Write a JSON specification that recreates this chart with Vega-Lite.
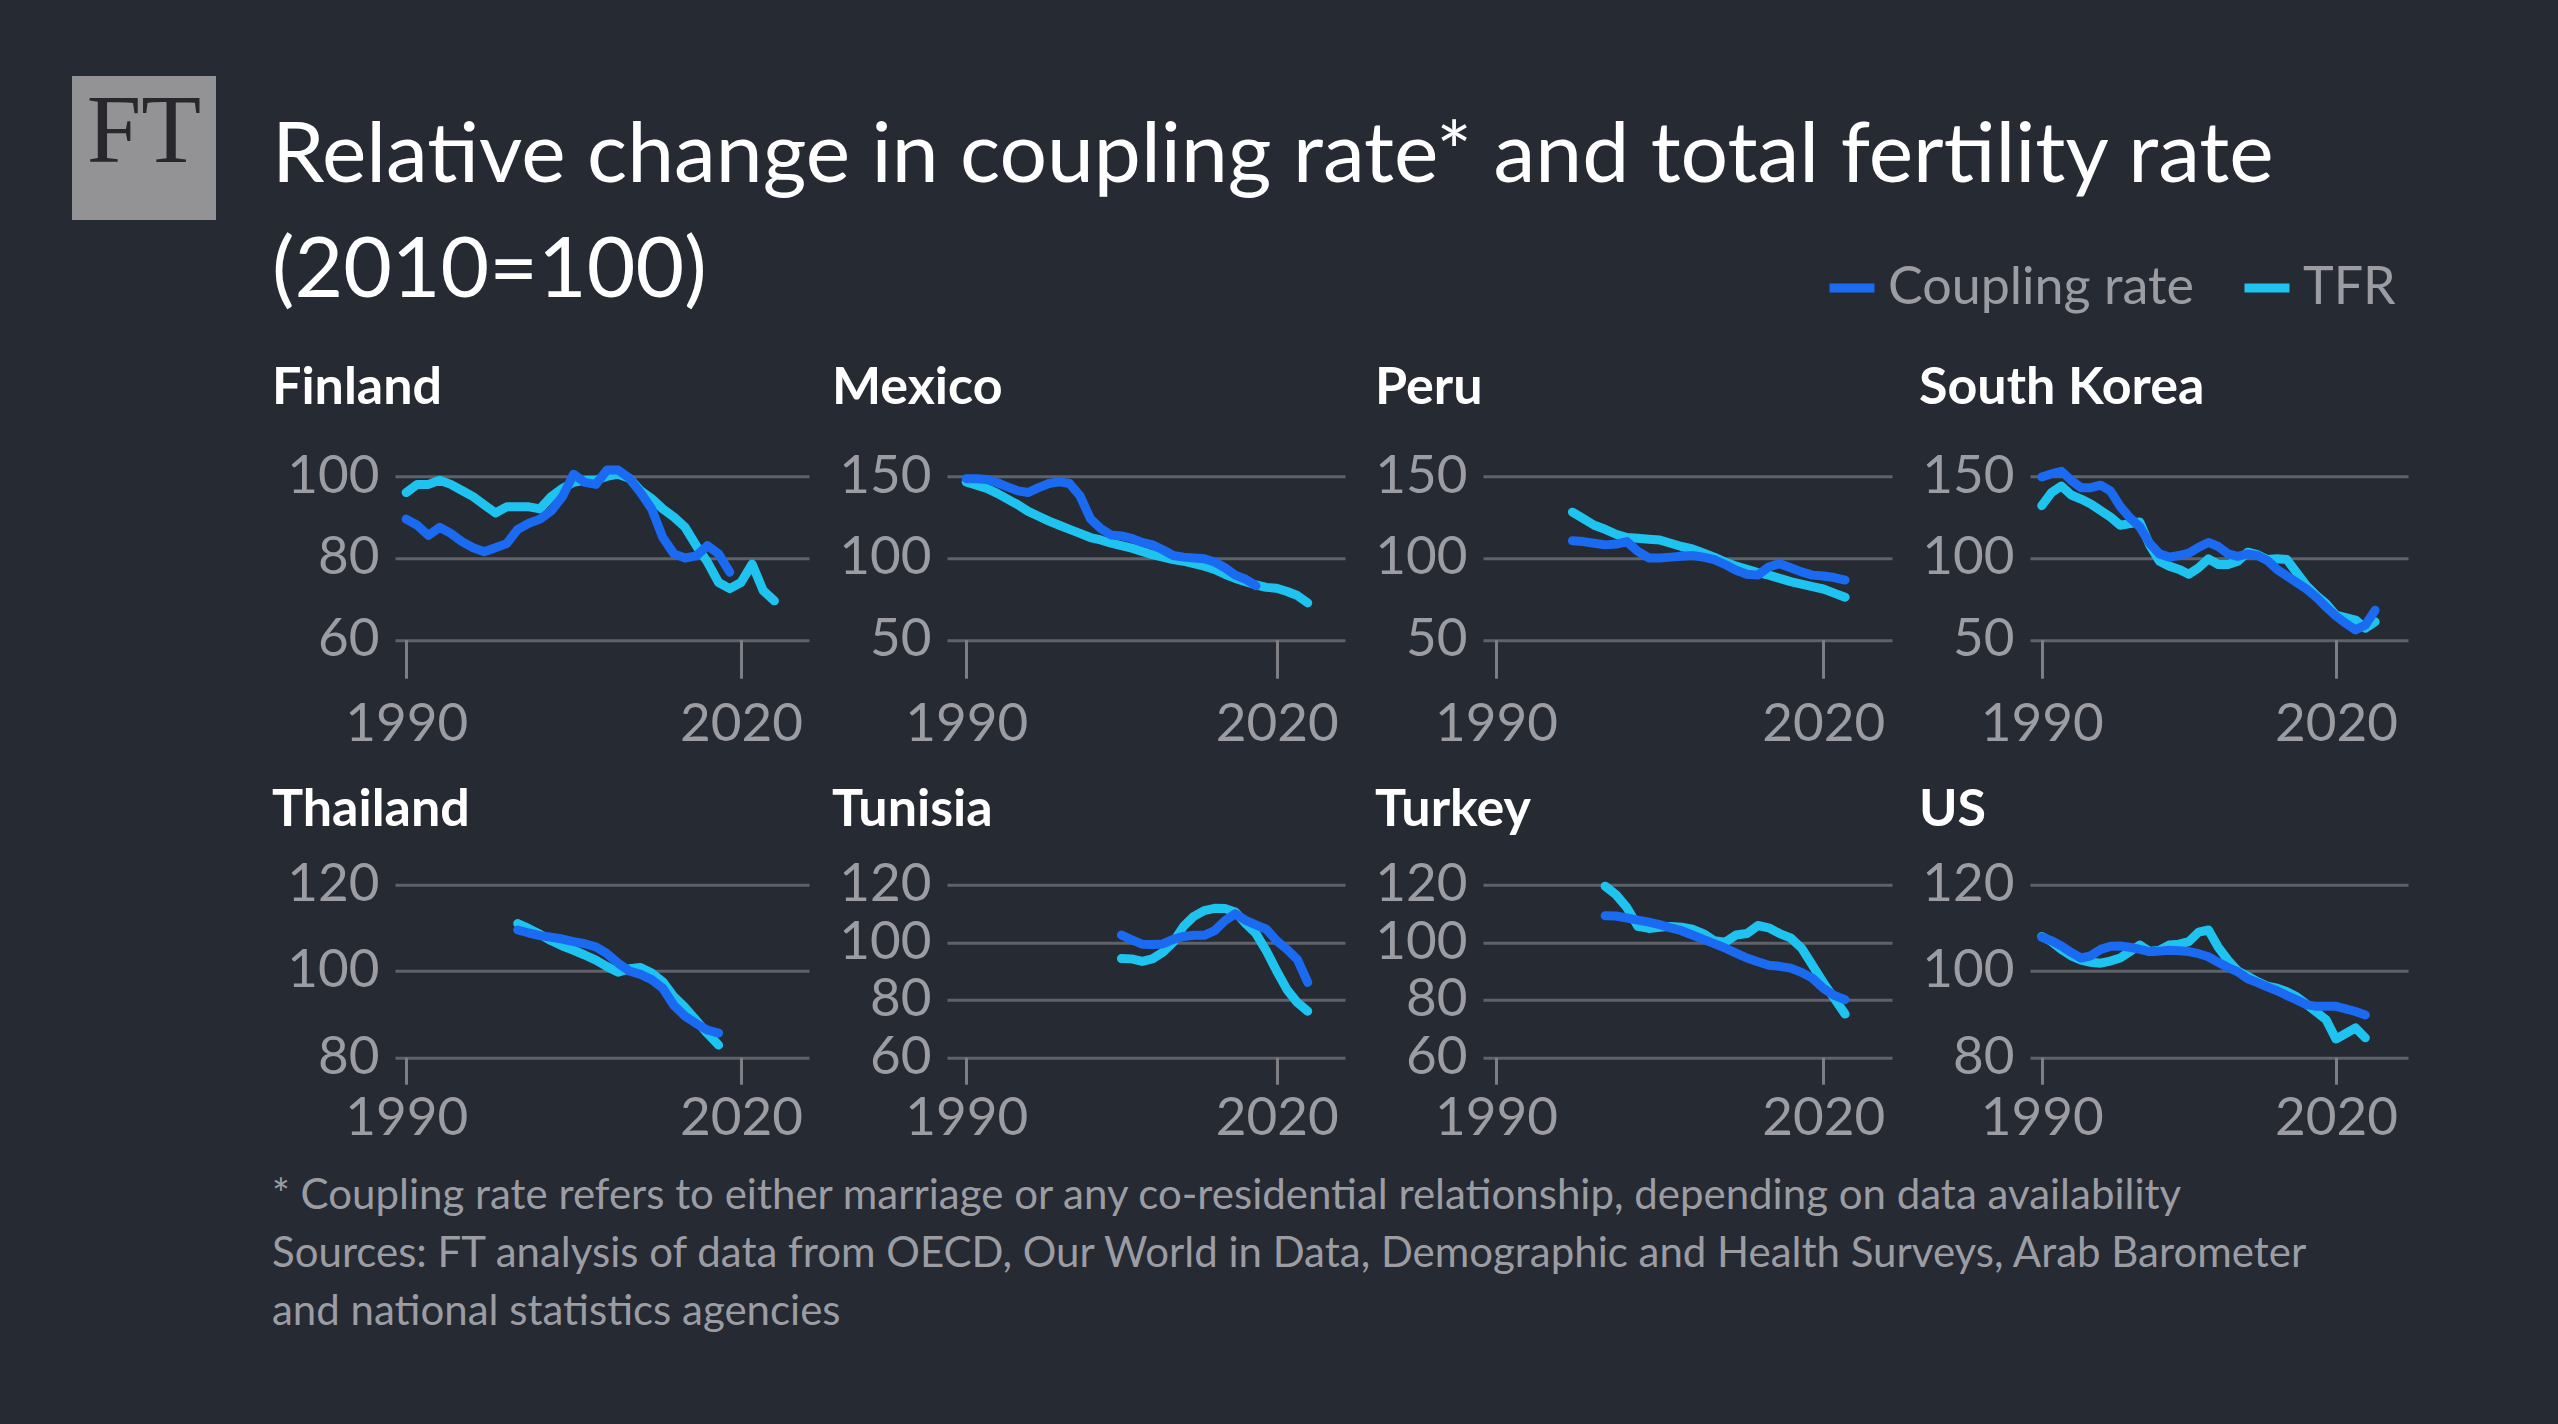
{
"$schema": "https://vega.github.io/schema/vega-lite/v6.json",
"background": "#262a33",
"padding": {"left": 72, "top": 76, "right": 150, "bottom": 91},
"config": {
  "font": "Lato",
  "view": {"stroke": null},
  "line": {"strokeWidth": 9, "strokeCap": "round", "strokeJoin": "round"},
  "axis": {"labelFont": "Lato", "labelFontSize": 53, "labelColor": "#9b9da3", "domain": false, "grid": false, "ticks": false},
  "axisX": {"ticks": true, "tickColor": "#7c7e84", "tickWidth": 3, "labelFlush": false},
  "axisY": {"grid": true, "gridColor": "#5f6268", "gridWidth": 3, "labelPadding": 16},
  "title": {"anchor": "start", "frame": "group", "font": "Lato", "fontSize": 52, "fontWeight": "bold", "color": "#ffffff"},
  "legend": {"orient": "none", "legendX": 1753, "legendY": 185, "direction": "horizontal", "symbolType": "stroke", "symbolSize": 2025, "symbolStrokeWidth": 9, "labelFont": "Lato", "labelFontSize": 52, "labelColor": "#9b9da3", "labelOffset": 9, "labelLimit": 800, "columnPadding": 46}
},
"spacing": 56,
"hconcat": [
  {
    "width": 144, "height": 144,
    "view": {"fill": "#939396", "stroke": null},
    "data": {"values": [{"logo": "FT"}]},
    "mark": {"type": "text", "font": "Liberation Serif", "fontSize": 98, "color": "#28282c", "baseline": "alphabetic", "dy": 14},
    "encoding": {"text": {"field": "logo"}}
  },
  {
    "spacing": 47.2,
    "vconcat": [
      {
        "width": 414, "height": 1,
        "data": {"values": []},
        "mark": "point",
        "encoding": {},
        "title": {"text": ["Relative change in coupling rate* and total fertility rate", "(2010=100)"], "orient": "bottom", "anchor": "start", "dx": -123, "offset": 38.8, "fontSize": 84, "fontWeight": "normal", "color": "#ffffff", "lineHeight": 115}
      },
      {
        "data": {"values": [
{"country":"Finland","series":"TFR","year":1990,"value":96},{"country":"Finland","series":"TFR","year":1991,"value":98},{"country":"Finland","series":"TFR","year":1992,"value":98},{"country":"Finland","series":"TFR","year":1993,"value":99},{"country":"Finland","series":"TFR","year":1994,"value":98},{"country":"Finland","series":"TFR","year":1995,"value":96.5},{"country":"Finland","series":"TFR","year":1996,"value":95},{"country":"Finland","series":"TFR","year":1997,"value":93},{"country":"Finland","series":"TFR","year":1998,"value":91},{"country":"Finland","series":"TFR","year":1999,"value":92.5},{"country":"Finland","series":"TFR","year":2000,"value":92.5},{"country":"Finland","series":"TFR","year":2001,"value":92.5},{"country":"Finland","series":"TFR","year":2002,"value":92},{"country":"Finland","series":"TFR","year":2003,"value":95},{"country":"Finland","series":"TFR","year":2004,"value":97},{"country":"Finland","series":"TFR","year":2005,"value":98.5},{"country":"Finland","series":"TFR","year":2006,"value":99},{"country":"Finland","series":"TFR","year":2007,"value":99},{"country":"Finland","series":"TFR","year":2008,"value":100},{"country":"Finland","series":"TFR","year":2009,"value":100.5},{"country":"Finland","series":"TFR","year":2010,"value":99.5},{"country":"Finland","series":"TFR","year":2011,"value":96.5},{"country":"Finland","series":"TFR","year":2012,"value":94.5},{"country":"Finland","series":"TFR","year":2013,"value":92},{"country":"Finland","series":"TFR","year":2014,"value":90},{"country":"Finland","series":"TFR","year":2015,"value":87.5},{"country":"Finland","series":"TFR","year":2016,"value":83},{"country":"Finland","series":"TFR","year":2017,"value":79},{"country":"Finland","series":"TFR","year":2018,"value":74},{"country":"Finland","series":"TFR","year":2019,"value":72.5},{"country":"Finland","series":"TFR","year":2020,"value":74},{"country":"Finland","series":"TFR","year":2021,"value":78.5},{"country":"Finland","series":"TFR","year":2022,"value":72},{"country":"Finland","series":"TFR","year":2023,"value":69.5},
{"country":"Mexico","series":"TFR","year":1990,"value":146.5},{"country":"Mexico","series":"TFR","year":1991,"value":144.5},{"country":"Mexico","series":"TFR","year":1992,"value":142.5},{"country":"Mexico","series":"TFR","year":1993,"value":139.5},{"country":"Mexico","series":"TFR","year":1994,"value":136},{"country":"Mexico","series":"TFR","year":1995,"value":132.5},{"country":"Mexico","series":"TFR","year":1996,"value":128.5},{"country":"Mexico","series":"TFR","year":1997,"value":125.5},{"country":"Mexico","series":"TFR","year":1998,"value":122.5},{"country":"Mexico","series":"TFR","year":1999,"value":120},{"country":"Mexico","series":"TFR","year":2000,"value":117.5},{"country":"Mexico","series":"TFR","year":2001,"value":115},{"country":"Mexico","series":"TFR","year":2002,"value":112.5},{"country":"Mexico","series":"TFR","year":2003,"value":111},{"country":"Mexico","series":"TFR","year":2004,"value":109},{"country":"Mexico","series":"TFR","year":2005,"value":107.5},{"country":"Mexico","series":"TFR","year":2006,"value":106},{"country":"Mexico","series":"TFR","year":2007,"value":104},{"country":"Mexico","series":"TFR","year":2008,"value":102},{"country":"Mexico","series":"TFR","year":2009,"value":100.5},{"country":"Mexico","series":"TFR","year":2010,"value":99},{"country":"Mexico","series":"TFR","year":2011,"value":98},{"country":"Mexico","series":"TFR","year":2012,"value":96.5},{"country":"Mexico","series":"TFR","year":2013,"value":95},{"country":"Mexico","series":"TFR","year":2014,"value":93},{"country":"Mexico","series":"TFR","year":2015,"value":90},{"country":"Mexico","series":"TFR","year":2016,"value":87.5},{"country":"Mexico","series":"TFR","year":2017,"value":85.5},{"country":"Mexico","series":"TFR","year":2018,"value":83.5},{"country":"Mexico","series":"TFR","year":2019,"value":82},{"country":"Mexico","series":"TFR","year":2020,"value":81.5},{"country":"Mexico","series":"TFR","year":2021,"value":79.5},{"country":"Mexico","series":"TFR","year":2022,"value":77},{"country":"Mexico","series":"TFR","year":2023,"value":72.5},
{"country":"Peru","series":"TFR","year":1997,"value":128},{"country":"Peru","series":"TFR","year":1998,"value":124},{"country":"Peru","series":"TFR","year":1999,"value":120},{"country":"Peru","series":"TFR","year":2000,"value":117.5},{"country":"Peru","series":"TFR","year":2001,"value":114.5},{"country":"Peru","series":"TFR","year":2002,"value":112.5},{"country":"Peru","series":"TFR","year":2003,"value":112},{"country":"Peru","series":"TFR","year":2004,"value":111.5},{"country":"Peru","series":"TFR","year":2005,"value":111},{"country":"Peru","series":"TFR","year":2006,"value":109},{"country":"Peru","series":"TFR","year":2007,"value":107},{"country":"Peru","series":"TFR","year":2008,"value":105.5},{"country":"Peru","series":"TFR","year":2009,"value":103},{"country":"Peru","series":"TFR","year":2010,"value":100.5},{"country":"Peru","series":"TFR","year":2011,"value":97.5},{"country":"Peru","series":"TFR","year":2012,"value":95},{"country":"Peru","series":"TFR","year":2013,"value":93},{"country":"Peru","series":"TFR","year":2014,"value":91},{"country":"Peru","series":"TFR","year":2015,"value":89.5},{"country":"Peru","series":"TFR","year":2016,"value":87.5},{"country":"Peru","series":"TFR","year":2017,"value":85.5},{"country":"Peru","series":"TFR","year":2018,"value":84},{"country":"Peru","series":"TFR","year":2019,"value":82.5},{"country":"Peru","series":"TFR","year":2020,"value":81},{"country":"Peru","series":"TFR","year":2021,"value":78.5},{"country":"Peru","series":"TFR","year":2022,"value":76},
{"country":"South Korea","series":"TFR","year":1990,"value":132},{"country":"South Korea","series":"TFR","year":1991,"value":140},{"country":"South Korea","series":"TFR","year":1992,"value":144},{"country":"South Korea","series":"TFR","year":1993,"value":138.5},{"country":"South Korea","series":"TFR","year":1994,"value":136},{"country":"South Korea","series":"TFR","year":1995,"value":133},{"country":"South Korea","series":"TFR","year":1996,"value":129},{"country":"South Korea","series":"TFR","year":1997,"value":125},{"country":"South Korea","series":"TFR","year":1998,"value":120},{"country":"South Korea","series":"TFR","year":1999,"value":121},{"country":"South Korea","series":"TFR","year":2000,"value":122},{"country":"South Korea","series":"TFR","year":2001,"value":108},{"country":"South Korea","series":"TFR","year":2002,"value":98},{"country":"South Korea","series":"TFR","year":2003,"value":95},{"country":"South Korea","series":"TFR","year":2004,"value":93},{"country":"South Korea","series":"TFR","year":2005,"value":90},{"country":"South Korea","series":"TFR","year":2006,"value":94},{"country":"South Korea","series":"TFR","year":2007,"value":99.5},{"country":"South Korea","series":"TFR","year":2008,"value":96},{"country":"South Korea","series":"TFR","year":2009,"value":96},{"country":"South Korea","series":"TFR","year":2010,"value":98},{"country":"South Korea","series":"TFR","year":2011,"value":103.5},{"country":"South Korea","series":"TFR","year":2012,"value":102},{"country":"South Korea","series":"TFR","year":2013,"value":99},{"country":"South Korea","series":"TFR","year":2014,"value":99.5},{"country":"South Korea","series":"TFR","year":2015,"value":99},{"country":"South Korea","series":"TFR","year":2016,"value":91},{"country":"South Korea","series":"TFR","year":2017,"value":83},{"country":"South Korea","series":"TFR","year":2018,"value":77},{"country":"South Korea","series":"TFR","year":2019,"value":72},{"country":"South Korea","series":"TFR","year":2020,"value":65},{"country":"South Korea","series":"TFR","year":2021,"value":63.5},{"country":"South Korea","series":"TFR","year":2022,"value":62},{"country":"South Korea","series":"TFR","year":2023,"value":57},{"country":"South Korea","series":"TFR","year":2024,"value":61},
{"country":"Thailand","series":"TFR","year":2000,"value":111},{"country":"Thailand","series":"TFR","year":2001,"value":109.8},{"country":"Thailand","series":"TFR","year":2002,"value":108.5},{"country":"Thailand","series":"TFR","year":2003,"value":107},{"country":"Thailand","series":"TFR","year":2004,"value":105.8},{"country":"Thailand","series":"TFR","year":2005,"value":104.8},{"country":"Thailand","series":"TFR","year":2006,"value":103.7},{"country":"Thailand","series":"TFR","year":2007,"value":102.5},{"country":"Thailand","series":"TFR","year":2008,"value":101},{"country":"Thailand","series":"TFR","year":2009,"value":99.7},{"country":"Thailand","series":"TFR","year":2010,"value":100.5},{"country":"Thailand","series":"TFR","year":2011,"value":100.8},{"country":"Thailand","series":"TFR","year":2012,"value":99.5},{"country":"Thailand","series":"TFR","year":2013,"value":97.5},{"country":"Thailand","series":"TFR","year":2014,"value":94},{"country":"Thailand","series":"TFR","year":2015,"value":91.5},{"country":"Thailand","series":"TFR","year":2016,"value":88.5},{"country":"Thailand","series":"TFR","year":2017,"value":85.5},{"country":"Thailand","series":"TFR","year":2018,"value":82.8},
{"country":"Tunisia","series":"TFR","year":2005,"value":94.3},{"country":"Tunisia","series":"TFR","year":2006,"value":94.2},{"country":"Tunisia","series":"TFR","year":2007,"value":93.3},{"country":"Tunisia","series":"TFR","year":2008,"value":94.2},{"country":"Tunisia","series":"TFR","year":2009,"value":96.5},{"country":"Tunisia","series":"TFR","year":2010,"value":100},{"country":"Tunisia","series":"TFR","year":2011,"value":105.5},{"country":"Tunisia","series":"TFR","year":2012,"value":109},{"country":"Tunisia","series":"TFR","year":2013,"value":111},{"country":"Tunisia","series":"TFR","year":2014,"value":111.8},{"country":"Tunisia","series":"TFR","year":2015,"value":111.7},{"country":"Tunisia","series":"TFR","year":2016,"value":110.5},{"country":"Tunisia","series":"TFR","year":2017,"value":106.5},{"country":"Tunisia","series":"TFR","year":2018,"value":103},{"country":"Tunisia","series":"TFR","year":2019,"value":97},{"country":"Tunisia","series":"TFR","year":2020,"value":90},{"country":"Tunisia","series":"TFR","year":2021,"value":83.5},{"country":"Tunisia","series":"TFR","year":2022,"value":79},{"country":"Tunisia","series":"TFR","year":2023,"value":76},
{"country":"Turkey","series":"TFR","year":2000,"value":119.5},{"country":"Turkey","series":"TFR","year":2001,"value":116.5},{"country":"Turkey","series":"TFR","year":2002,"value":112},{"country":"Turkey","series":"TFR","year":2003,"value":105.5},{"country":"Turkey","series":"TFR","year":2004,"value":104.8},{"country":"Turkey","series":"TFR","year":2005,"value":105.2},{"country":"Turkey","series":"TFR","year":2006,"value":105.5},{"country":"Turkey","series":"TFR","year":2007,"value":105.2},{"country":"Turkey","series":"TFR","year":2008,"value":104.5},{"country":"Turkey","series":"TFR","year":2009,"value":103},{"country":"Turkey","series":"TFR","year":2010,"value":100.5},{"country":"Turkey","series":"TFR","year":2011,"value":100},{"country":"Turkey","series":"TFR","year":2012,"value":102.5},{"country":"Turkey","series":"TFR","year":2013,"value":103},{"country":"Turkey","series":"TFR","year":2014,"value":105.8},{"country":"Turkey","series":"TFR","year":2015,"value":105},{"country":"Turkey","series":"TFR","year":2016,"value":103},{"country":"Turkey","series":"TFR","year":2017,"value":101.5},{"country":"Turkey","series":"TFR","year":2018,"value":98},{"country":"Turkey","series":"TFR","year":2019,"value":92},{"country":"Turkey","series":"TFR","year":2020,"value":86},{"country":"Turkey","series":"TFR","year":2021,"value":80.5},{"country":"Turkey","series":"TFR","year":2022,"value":75},
{"country":"US","series":"TFR","year":1990,"value":108},{"country":"US","series":"TFR","year":1991,"value":106.8},{"country":"US","series":"TFR","year":1992,"value":105},{"country":"US","series":"TFR","year":1993,"value":103.5},{"country":"US","series":"TFR","year":1994,"value":102.5},{"country":"US","series":"TFR","year":1995,"value":102},{"country":"US","series":"TFR","year":1996,"value":101.8},{"country":"US","series":"TFR","year":1997,"value":102.3},{"country":"US","series":"TFR","year":1998,"value":103},{"country":"US","series":"TFR","year":1999,"value":104.5},{"country":"US","series":"TFR","year":2000,"value":106},{"country":"US","series":"TFR","year":2001,"value":104.5},{"country":"US","series":"TFR","year":2002,"value":104.8},{"country":"US","series":"TFR","year":2003,"value":106},{"country":"US","series":"TFR","year":2004,"value":106.2},{"country":"US","series":"TFR","year":2005,"value":106.8},{"country":"US","series":"TFR","year":2006,"value":109},{"country":"US","series":"TFR","year":2007,"value":109.5},{"country":"US","series":"TFR","year":2008,"value":105.5},{"country":"US","series":"TFR","year":2009,"value":102.5},{"country":"US","series":"TFR","year":2010,"value":100},{"country":"US","series":"TFR","year":2011,"value":98.8},{"country":"US","series":"TFR","year":2012,"value":97.5},{"country":"US","series":"TFR","year":2013,"value":96.5},{"country":"US","series":"TFR","year":2014,"value":96},{"country":"US","series":"TFR","year":2015,"value":95.2},{"country":"US","series":"TFR","year":2016,"value":94},{"country":"US","series":"TFR","year":2017,"value":92.3},{"country":"US","series":"TFR","year":2018,"value":90.5},{"country":"US","series":"TFR","year":2019,"value":88.7},{"country":"US","series":"TFR","year":2020,"value":84.2},{"country":"US","series":"TFR","year":2021,"value":85.5},{"country":"US","series":"TFR","year":2022,"value":86.8},{"country":"US","series":"TFR","year":2023,"value":84.5},
{"country":"Finland","series":"Coupling rate","year":1990,"value":89.5},{"country":"Finland","series":"Coupling rate","year":1991,"value":88},{"country":"Finland","series":"Coupling rate","year":1992,"value":85.5},{"country":"Finland","series":"Coupling rate","year":1993,"value":87.5},{"country":"Finland","series":"Coupling rate","year":1994,"value":86},{"country":"Finland","series":"Coupling rate","year":1995,"value":84},{"country":"Finland","series":"Coupling rate","year":1996,"value":82.5},{"country":"Finland","series":"Coupling rate","year":1997,"value":81.5},{"country":"Finland","series":"Coupling rate","year":1998,"value":82.5},{"country":"Finland","series":"Coupling rate","year":1999,"value":83.5},{"country":"Finland","series":"Coupling rate","year":2000,"value":87},{"country":"Finland","series":"Coupling rate","year":2001,"value":88.5},{"country":"Finland","series":"Coupling rate","year":2002,"value":89.5},{"country":"Finland","series":"Coupling rate","year":2003,"value":91.5},{"country":"Finland","series":"Coupling rate","year":2004,"value":95},{"country":"Finland","series":"Coupling rate","year":2005,"value":100.5},{"country":"Finland","series":"Coupling rate","year":2006,"value":98.5},{"country":"Finland","series":"Coupling rate","year":2007,"value":98},{"country":"Finland","series":"Coupling rate","year":2008,"value":101.5},{"country":"Finland","series":"Coupling rate","year":2009,"value":101.5},{"country":"Finland","series":"Coupling rate","year":2010,"value":99.5},{"country":"Finland","series":"Coupling rate","year":2011,"value":96},{"country":"Finland","series":"Coupling rate","year":2012,"value":92},{"country":"Finland","series":"Coupling rate","year":2013,"value":85},{"country":"Finland","series":"Coupling rate","year":2014,"value":81},{"country":"Finland","series":"Coupling rate","year":2015,"value":80},{"country":"Finland","series":"Coupling rate","year":2016,"value":80.5},{"country":"Finland","series":"Coupling rate","year":2017,"value":83},{"country":"Finland","series":"Coupling rate","year":2018,"value":81},{"country":"Finland","series":"Coupling rate","year":2019,"value":76.5},
{"country":"Mexico","series":"Coupling rate","year":1990,"value":148.5},{"country":"Mexico","series":"Coupling rate","year":1991,"value":148.5},{"country":"Mexico","series":"Coupling rate","year":1992,"value":148},{"country":"Mexico","series":"Coupling rate","year":1993,"value":146},{"country":"Mexico","series":"Coupling rate","year":1994,"value":143.5},{"country":"Mexico","series":"Coupling rate","year":1995,"value":141},{"country":"Mexico","series":"Coupling rate","year":1996,"value":140},{"country":"Mexico","series":"Coupling rate","year":1997,"value":143},{"country":"Mexico","series":"Coupling rate","year":1998,"value":145.5},{"country":"Mexico","series":"Coupling rate","year":1999,"value":146.5},{"country":"Mexico","series":"Coupling rate","year":2000,"value":145.5},{"country":"Mexico","series":"Coupling rate","year":2001,"value":138},{"country":"Mexico","series":"Coupling rate","year":2002,"value":124},{"country":"Mexico","series":"Coupling rate","year":2003,"value":118},{"country":"Mexico","series":"Coupling rate","year":2004,"value":114},{"country":"Mexico","series":"Coupling rate","year":2005,"value":113.5},{"country":"Mexico","series":"Coupling rate","year":2006,"value":112},{"country":"Mexico","series":"Coupling rate","year":2007,"value":109.5},{"country":"Mexico","series":"Coupling rate","year":2008,"value":108},{"country":"Mexico","series":"Coupling rate","year":2009,"value":105},{"country":"Mexico","series":"Coupling rate","year":2010,"value":101.5},{"country":"Mexico","series":"Coupling rate","year":2011,"value":100.5},{"country":"Mexico","series":"Coupling rate","year":2012,"value":100},{"country":"Mexico","series":"Coupling rate","year":2013,"value":99.5},{"country":"Mexico","series":"Coupling rate","year":2014,"value":97.5},{"country":"Mexico","series":"Coupling rate","year":2015,"value":94},{"country":"Mexico","series":"Coupling rate","year":2016,"value":89.5},{"country":"Mexico","series":"Coupling rate","year":2017,"value":87},{"country":"Mexico","series":"Coupling rate","year":2018,"value":83},
{"country":"Peru","series":"Coupling rate","year":1997,"value":110.5},{"country":"Peru","series":"Coupling rate","year":1998,"value":110},{"country":"Peru","series":"Coupling rate","year":1999,"value":109},{"country":"Peru","series":"Coupling rate","year":2000,"value":108},{"country":"Peru","series":"Coupling rate","year":2001,"value":108.5},{"country":"Peru","series":"Coupling rate","year":2002,"value":110},{"country":"Peru","series":"Coupling rate","year":2003,"value":104},{"country":"Peru","series":"Coupling rate","year":2004,"value":100},{"country":"Peru","series":"Coupling rate","year":2005,"value":100},{"country":"Peru","series":"Coupling rate","year":2006,"value":100.5},{"country":"Peru","series":"Coupling rate","year":2007,"value":101},{"country":"Peru","series":"Coupling rate","year":2008,"value":101.5},{"country":"Peru","series":"Coupling rate","year":2009,"value":100.5},{"country":"Peru","series":"Coupling rate","year":2010,"value":99},{"country":"Peru","series":"Coupling rate","year":2011,"value":96},{"country":"Peru","series":"Coupling rate","year":2012,"value":92.5},{"country":"Peru","series":"Coupling rate","year":2013,"value":90},{"country":"Peru","series":"Coupling rate","year":2014,"value":89.5},{"country":"Peru","series":"Coupling rate","year":2015,"value":94.5},{"country":"Peru","series":"Coupling rate","year":2016,"value":96.5},{"country":"Peru","series":"Coupling rate","year":2017,"value":94},{"country":"Peru","series":"Coupling rate","year":2018,"value":91.5},{"country":"Peru","series":"Coupling rate","year":2019,"value":89.5},{"country":"Peru","series":"Coupling rate","year":2020,"value":89},{"country":"Peru","series":"Coupling rate","year":2021,"value":88},{"country":"Peru","series":"Coupling rate","year":2022,"value":86.5},
{"country":"South Korea","series":"Coupling rate","year":1990,"value":149.5},{"country":"South Korea","series":"Coupling rate","year":1991,"value":151.5},{"country":"South Korea","series":"Coupling rate","year":1992,"value":153},{"country":"South Korea","series":"Coupling rate","year":1993,"value":147.5},{"country":"South Korea","series":"Coupling rate","year":1994,"value":143},{"country":"South Korea","series":"Coupling rate","year":1995,"value":143},{"country":"South Korea","series":"Coupling rate","year":1996,"value":144.5},{"country":"South Korea","series":"Coupling rate","year":1997,"value":141},{"country":"South Korea","series":"Coupling rate","year":1998,"value":131.5},{"country":"South Korea","series":"Coupling rate","year":1999,"value":124.5},{"country":"South Korea","series":"Coupling rate","year":2000,"value":119},{"country":"South Korea","series":"Coupling rate","year":2001,"value":109},{"country":"South Korea","series":"Coupling rate","year":2002,"value":102.5},{"country":"South Korea","series":"Coupling rate","year":2003,"value":100.5},{"country":"South Korea","series":"Coupling rate","year":2004,"value":101.5},{"country":"South Korea","series":"Coupling rate","year":2005,"value":103},{"country":"South Korea","series":"Coupling rate","year":2006,"value":106.5},{"country":"South Korea","series":"Coupling rate","year":2007,"value":109.5},{"country":"South Korea","series":"Coupling rate","year":2008,"value":107},{"country":"South Korea","series":"Coupling rate","year":2009,"value":102.5},{"country":"South Korea","series":"Coupling rate","year":2010,"value":101},{"country":"South Korea","series":"Coupling rate","year":2011,"value":102.5},{"country":"South Korea","series":"Coupling rate","year":2012,"value":101.5},{"country":"South Korea","series":"Coupling rate","year":2013,"value":98.5},{"country":"South Korea","series":"Coupling rate","year":2014,"value":93},{"country":"South Korea","series":"Coupling rate","year":2015,"value":89},{"country":"South Korea","series":"Coupling rate","year":2016,"value":85},{"country":"South Korea","series":"Coupling rate","year":2017,"value":81},{"country":"South Korea","series":"Coupling rate","year":2018,"value":76},{"country":"South Korea","series":"Coupling rate","year":2019,"value":70},{"country":"South Korea","series":"Coupling rate","year":2020,"value":64.5},{"country":"South Korea","series":"Coupling rate","year":2021,"value":60},{"country":"South Korea","series":"Coupling rate","year":2022,"value":56},{"country":"South Korea","series":"Coupling rate","year":2023,"value":59},{"country":"South Korea","series":"Coupling rate","year":2024,"value":68},
{"country":"Thailand","series":"Coupling rate","year":2000,"value":109.5},{"country":"Thailand","series":"Coupling rate","year":2001,"value":108.8},{"country":"Thailand","series":"Coupling rate","year":2002,"value":108.2},{"country":"Thailand","series":"Coupling rate","year":2003,"value":107.8},{"country":"Thailand","series":"Coupling rate","year":2004,"value":107.4},{"country":"Thailand","series":"Coupling rate","year":2005,"value":106.8},{"country":"Thailand","series":"Coupling rate","year":2006,"value":106.3},{"country":"Thailand","series":"Coupling rate","year":2007,"value":105.6},{"country":"Thailand","series":"Coupling rate","year":2008,"value":104},{"country":"Thailand","series":"Coupling rate","year":2009,"value":101.8},{"country":"Thailand","series":"Coupling rate","year":2010,"value":100},{"country":"Thailand","series":"Coupling rate","year":2011,"value":99.2},{"country":"Thailand","series":"Coupling rate","year":2012,"value":98},{"country":"Thailand","series":"Coupling rate","year":2013,"value":96},{"country":"Thailand","series":"Coupling rate","year":2014,"value":92},{"country":"Thailand","series":"Coupling rate","year":2015,"value":89.5},{"country":"Thailand","series":"Coupling rate","year":2016,"value":87.8},{"country":"Thailand","series":"Coupling rate","year":2017,"value":86.3},{"country":"Thailand","series":"Coupling rate","year":2018,"value":85.6},
{"country":"Tunisia","series":"Coupling rate","year":2005,"value":102.5},{"country":"Tunisia","series":"Coupling rate","year":2006,"value":100.8},{"country":"Tunisia","series":"Coupling rate","year":2007,"value":99.3},{"country":"Tunisia","series":"Coupling rate","year":2008,"value":99.2},{"country":"Tunisia","series":"Coupling rate","year":2009,"value":99.4},{"country":"Tunisia","series":"Coupling rate","year":2010,"value":101},{"country":"Tunisia","series":"Coupling rate","year":2011,"value":102},{"country":"Tunisia","series":"Coupling rate","year":2012,"value":102.4},{"country":"Tunisia","series":"Coupling rate","year":2013,"value":102.4},{"country":"Tunisia","series":"Coupling rate","year":2014,"value":104},{"country":"Tunisia","series":"Coupling rate","year":2015,"value":107.5},{"country":"Tunisia","series":"Coupling rate","year":2016,"value":109.9},{"country":"Tunisia","series":"Coupling rate","year":2017,"value":107.6},{"country":"Tunisia","series":"Coupling rate","year":2018,"value":106},{"country":"Tunisia","series":"Coupling rate","year":2019,"value":104.5},{"country":"Tunisia","series":"Coupling rate","year":2020,"value":100.5},{"country":"Tunisia","series":"Coupling rate","year":2021,"value":97.5},{"country":"Tunisia","series":"Coupling rate","year":2022,"value":94},{"country":"Tunisia","series":"Coupling rate","year":2023,"value":86},
{"country":"Turkey","series":"Coupling rate","year":2000,"value":109.2},{"country":"Turkey","series":"Coupling rate","year":2001,"value":109.1},{"country":"Turkey","series":"Coupling rate","year":2002,"value":108.4},{"country":"Turkey","series":"Coupling rate","year":2003,"value":107.7},{"country":"Turkey","series":"Coupling rate","year":2004,"value":107},{"country":"Turkey","series":"Coupling rate","year":2005,"value":106.1},{"country":"Turkey","series":"Coupling rate","year":2006,"value":105},{"country":"Turkey","series":"Coupling rate","year":2007,"value":104},{"country":"Turkey","series":"Coupling rate","year":2008,"value":102.5},{"country":"Turkey","series":"Coupling rate","year":2009,"value":101},{"country":"Turkey","series":"Coupling rate","year":2010,"value":99.5},{"country":"Turkey","series":"Coupling rate","year":2011,"value":98},{"country":"Turkey","series":"Coupling rate","year":2012,"value":96.2},{"country":"Turkey","series":"Coupling rate","year":2013,"value":94.5},{"country":"Turkey","series":"Coupling rate","year":2014,"value":93.2},{"country":"Turkey","series":"Coupling rate","year":2015,"value":92},{"country":"Turkey","series":"Coupling rate","year":2016,"value":91.6},{"country":"Turkey","series":"Coupling rate","year":2017,"value":91},{"country":"Turkey","series":"Coupling rate","year":2018,"value":89.5},{"country":"Turkey","series":"Coupling rate","year":2019,"value":87.5},{"country":"Turkey","series":"Coupling rate","year":2020,"value":84},{"country":"Turkey","series":"Coupling rate","year":2021,"value":81.5},{"country":"Turkey","series":"Coupling rate","year":2022,"value":80},
{"country":"US","series":"Coupling rate","year":1990,"value":107.8},{"country":"US","series":"Coupling rate","year":1991,"value":107},{"country":"US","series":"Coupling rate","year":1992,"value":105.8},{"country":"US","series":"Coupling rate","year":1993,"value":104.3},{"country":"US","series":"Coupling rate","year":1994,"value":103},{"country":"US","series":"Coupling rate","year":1995,"value":103.5},{"country":"US","series":"Coupling rate","year":1996,"value":105},{"country":"US","series":"Coupling rate","year":1997,"value":105.7},{"country":"US","series":"Coupling rate","year":1998,"value":105.8},{"country":"US","series":"Coupling rate","year":1999,"value":105.5},{"country":"US","series":"Coupling rate","year":2000,"value":105},{"country":"US","series":"Coupling rate","year":2001,"value":104.5},{"country":"US","series":"Coupling rate","year":2002,"value":104.6},{"country":"US","series":"Coupling rate","year":2003,"value":104.8},{"country":"US","series":"Coupling rate","year":2004,"value":104.7},{"country":"US","series":"Coupling rate","year":2005,"value":104.5},{"country":"US","series":"Coupling rate","year":2006,"value":104},{"country":"US","series":"Coupling rate","year":2007,"value":103.3},{"country":"US","series":"Coupling rate","year":2008,"value":102},{"country":"US","series":"Coupling rate","year":2009,"value":100.8},{"country":"US","series":"Coupling rate","year":2010,"value":99.8},{"country":"US","series":"Coupling rate","year":2011,"value":98.2},{"country":"US","series":"Coupling rate","year":2012,"value":97.3},{"country":"US","series":"Coupling rate","year":2013,"value":96.3},{"country":"US","series":"Coupling rate","year":2014,"value":95.4},{"country":"US","series":"Coupling rate","year":2015,"value":94.3},{"country":"US","series":"Coupling rate","year":2016,"value":93.3},{"country":"US","series":"Coupling rate","year":2017,"value":92.2},{"country":"US","series":"Coupling rate","year":2018,"value":91.8},{"country":"US","series":"Coupling rate","year":2019,"value":91.8},{"country":"US","series":"Coupling rate","year":2020,"value":91.8},{"country":"US","series":"Coupling rate","year":2021,"value":91.2},{"country":"US","series":"Coupling rate","year":2022,"value":90.6},{"country":"US","series":"Coupling rate","year":2023,"value":89.8}
        ]},
        "columns": 4,
        "bounds": "flush",
        "align": "each",
        "spacing": {"row": 244.5, "column": 138},
        "title": {"text": ["* Coupling rate refers to either marriage or any co-residential relationship, depending on data availability", "Sources: FT analysis of data from OECD, Our World in Data, Demographic and Health Surveys, Arab Barometer", "and national statistics agencies"], "orient": "bottom", "dx": -123, "offset": 30.1, "fontSize": 42, "fontWeight": "normal", "color": "#9b9da3", "lineHeight": 58},
        "concat": [
          {"width": 414, "height": 163.5, "title": {"text": "Finland", "dx": -123, "offset": 35.6},
           "transform": [{"filter": "datum.country === 'Finland'"}], "mark": "line",
           "encoding": {
             "x": {"field": "year", "type": "quantitative", "title": null, "scale": {"domain": [1989, 2026.1], "nice": false, "zero": false}, "axis": {"values": [1990, 2020], "format": "d", "tickSize": 38.5, "labelPadding": 20}},
             "y": {"field": "value", "type": "quantitative", "title": null, "scale": {"domain": [60, 100], "nice": false, "zero": false}, "axis": {"values": [60, 80, 100]}},
             "color": {"field": "series", "type": "nominal", "title": null, "scale": {"domain": ["Coupling rate", "TFR"], "range": ["#1a6bf2", "#1fc3ef"]}}}},
          {"width": 398, "height": 163.5, "title": {"text": "Mexico", "dx": -115, "offset": 35.6},
           "transform": [{"filter": "datum.country === 'Mexico'"}], "mark": "line",
           "encoding": {
             "x": {"field": "year", "type": "quantitative", "title": null, "scale": {"domain": [1988.15, 2026.6], "nice": false, "zero": false}, "axis": {"values": [1990, 2020], "format": "d", "tickSize": 38.5, "labelPadding": 20}},
             "y": {"field": "value", "type": "quantitative", "title": null, "scale": {"domain": [50, 150], "nice": false, "zero": false}, "axis": {"values": [50, 100, 150]}},
             "color": {"field": "series", "type": "nominal", "title": null, "scale": {"domain": ["Coupling rate", "TFR"], "range": ["#1a6bf2", "#1fc3ef"]}}}},
          {"width": 409, "height": 163.5, "title": {"text": "Peru", "dx": -108, "offset": 35.6},
           "transform": [{"filter": "datum.country === 'Peru'"}], "mark": "line",
           "encoding": {
             "x": {"field": "year", "type": "quantitative", "title": null, "scale": {"domain": [1988.8, 2026.3], "nice": false, "zero": false}, "axis": {"values": [1990, 2020], "format": "d", "tickSize": 38.5, "labelPadding": 20}},
             "y": {"field": "value", "type": "quantitative", "title": null, "scale": {"domain": [50, 150], "nice": false, "zero": false}, "axis": {"values": [50, 100, 150]}},
             "color": {"field": "series", "type": "nominal", "title": null, "scale": {"domain": ["Coupling rate", "TFR"], "range": ["#1a6bf2", "#1fc3ef"]}}}},
          {"width": 378, "height": 163.5, "title": {"text": "South Korea", "dx": -111, "offset": 35.6},
           "transform": [{"filter": "datum.country === 'South Korea'"}], "mark": "line",
           "encoding": {
             "x": {"field": "year", "type": "quantitative", "title": null, "scale": {"domain": [1988.8, 2027.35], "nice": false, "zero": false}, "axis": {"values": [1990, 2020], "format": "d", "tickSize": 38.5, "labelPadding": 20}},
             "y": {"field": "value", "type": "quantitative", "title": null, "scale": {"domain": [50, 150], "nice": false, "zero": false}, "axis": {"values": [50, 100, 150]}},
             "color": {"field": "series", "type": "nominal", "title": null, "scale": {"domain": ["Coupling rate", "TFR"], "range": ["#1a6bf2", "#1fc3ef"]}}}},
          {"width": 414, "height": 172.5, "title": {"text": "Thailand", "dx": -123, "offset": 22.2},
           "transform": [{"filter": "datum.country === 'Thailand'"}], "mark": "line",
           "encoding": {
             "x": {"field": "year", "type": "quantitative", "title": null, "scale": {"domain": [1989, 2026.1], "nice": false, "zero": false}, "axis": {"values": [1990, 2020], "format": "d", "tickSize": 27, "labelPadding": 8.5}},
             "y": {"field": "value", "type": "quantitative", "title": null, "scale": {"domain": [80, 120], "nice": false, "zero": false}, "axis": {"values": [80, 100, 120]}},
             "color": {"field": "series", "type": "nominal", "title": null, "scale": {"domain": ["Coupling rate", "TFR"], "range": ["#1a6bf2", "#1fc3ef"]}}}},
          {"width": 398, "height": 172.5, "title": {"text": "Tunisia", "dx": -115, "offset": 22.2},
           "transform": [{"filter": "datum.country === 'Tunisia'"}], "mark": "line",
           "encoding": {
             "x": {"field": "year", "type": "quantitative", "title": null, "scale": {"domain": [1988.15, 2026.6], "nice": false, "zero": false}, "axis": {"values": [1990, 2020], "format": "d", "tickSize": 27, "labelPadding": 8.5}},
             "y": {"field": "value", "type": "quantitative", "title": null, "scale": {"domain": [60, 120], "nice": false, "zero": false}, "axis": {"values": [60, 80, 100, 120]}},
             "color": {"field": "series", "type": "nominal", "title": null, "scale": {"domain": ["Coupling rate", "TFR"], "range": ["#1a6bf2", "#1fc3ef"]}}}},
          {"width": 409, "height": 172.5, "title": {"text": "Turkey", "dx": -108, "offset": 22.2},
           "transform": [{"filter": "datum.country === 'Turkey'"}], "mark": "line",
           "encoding": {
             "x": {"field": "year", "type": "quantitative", "title": null, "scale": {"domain": [1988.8, 2026.3], "nice": false, "zero": false}, "axis": {"values": [1990, 2020], "format": "d", "tickSize": 27, "labelPadding": 8.5}},
             "y": {"field": "value", "type": "quantitative", "title": null, "scale": {"domain": [60, 120], "nice": false, "zero": false}, "axis": {"values": [60, 80, 100, 120]}},
             "color": {"field": "series", "type": "nominal", "title": null, "scale": {"domain": ["Coupling rate", "TFR"], "range": ["#1a6bf2", "#1fc3ef"]}}}},
          {"width": 378, "height": 172.5, "title": {"text": "US", "dx": -111, "offset": 22.2},
           "transform": [{"filter": "datum.country === 'US'"}], "mark": "line",
           "encoding": {
             "x": {"field": "year", "type": "quantitative", "title": null, "scale": {"domain": [1988.8, 2027.35], "nice": false, "zero": false}, "axis": {"values": [1990, 2020], "format": "d", "tickSize": 27, "labelPadding": 8.5}},
             "y": {"field": "value", "type": "quantitative", "title": null, "scale": {"domain": [80, 120], "nice": false, "zero": false}, "axis": {"values": [80, 100, 120]}},
             "color": {"field": "series", "type": "nominal", "title": null, "scale": {"domain": ["Coupling rate", "TFR"], "range": ["#1a6bf2", "#1fc3ef"]}}}}
        ]
      }
    ]
  }
]
}
